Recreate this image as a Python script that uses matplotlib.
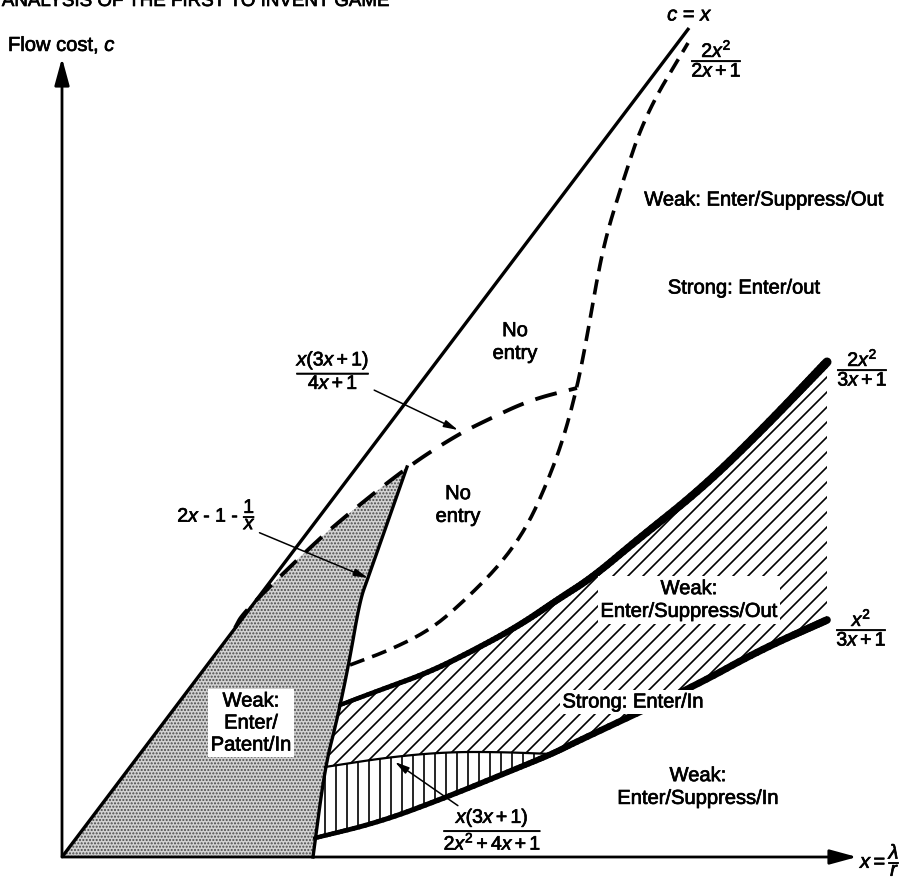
import numpy as np
import matplotlib.pyplot as plt
import matplotlib.patheffects as pe
from matplotlib.collections import LineCollection
from matplotlib.patches import Polygon
from matplotlib.path import Path

plt.rcParams['font.family'] = ['Liberation Sans', 'DejaVu Sans']
plt.rcParams['mathtext.fontset'] = 'custom'
plt.rcParams['mathtext.rm'] = 'Liberation Sans'
plt.rcParams['mathtext.it'] = 'Liberation Sans:italic'
plt.rcParams['mathtext.bf'] = 'Liberation Sans:bold'
plt.rcParams['lines.scale_dashes'] = False

# Curves (x = lambda/r across, c = flow cost up), schematic units
diag_x = [0.0, 6.27]                      # c = x
diag_c = [0.0, 8.29]

s_x = [2.88, 3.28, 3.68, 4.00, 4.38, 4.65, 4.85, 5.01, 5.15, 5.25, 5.33, 5.43, 5.58, 5.83, 6.26]   # 2x^2/(2x+1)
s_c = [1.92, 2.07, 2.27, 2.54, 2.92, 3.30, 3.74, 4.17, 4.69, 5.20, 5.67, 6.17, 6.67, 7.42, 8.14]

noentry_x = [1.73, 1.81, 2.38, 2.75, 3.45, 3.95, 4.25, 4.68, 5.15]   # x(3x+1)/(4x+1)
noentry_c = [2.29, 2.44, 3.00, 3.34, 3.90, 4.22, 4.37, 4.57, 4.69]

patent_x = [3.45, 3.06, 2.98, 2.87, 2.75, 2.63, 2.51]   # 2x - 1 - 1/x
patent_c = [3.90, 2.79, 2.57, 1.94, 1.37, 0.90, 0.00]

upper_x = [2.78, 3.18, 3.68, 4.18, 4.58, 4.95, 5.31, 5.75, 6.38, 6.98, 7.65]   # 2x^2/(3x+1)
upper_c = [1.52, 1.67, 1.85, 2.10, 2.32, 2.57, 2.80, 3.17, 3.67, 4.25, 4.95]

mid_x = [2.63, 3.28, 3.85, 4.38, 4.90]   # x(3x+1)/(2x^2+4x+1)
mid_c = [0.90, 1.00, 1.05, 1.05, 1.03]

lower_x = [2.53, 3.18, 3.85, 4.51, 4.90, 5.18, 6.31, 6.98, 7.65]   # x^2/(3x+1)
lower_c = [0.19, 0.35, 0.60, 0.87, 1.03, 1.17, 1.70, 2.07, 2.37]

x_end = 7.95
c_end = 7.99


def smooth(xs, cs, n=12):
    # quadratic bezier through the midpoints, read points act as control points
    pts = np.column_stack([xs, cs])
    if len(pts) < 3:
        return pts
    mids = (pts[:-1] + pts[1:]) / 2
    verts = [pts[0], mids[0]]
    codes = [Path.MOVETO, Path.LINETO]
    for i in range(1, len(pts) - 1):
        verts += [pts[i], mids[i]]
        codes += [Path.CURVE3, Path.CURVE3]
    verts.append(pts[-1])
    codes.append(Path.LINETO)
    out = [pts[0]]
    for seg, code in Path(verts, codes).iter_bezier():
        if code == Path.MOVETO:
            continue
        out.extend(seg(np.linspace(0, 1, n))[1:])
    return np.array(out)


fig = plt.figure(figsize=(9.13, 8.8), dpi=100)
ax = fig.add_axes([0, 0, 1, 1])
ax.set_xlim(-0.62, 8.51)
ax.set_ylim(-0.23, 8.57)
ax.axis('off')

# stippled region: Weak Enter/Patent/In
stip = np.array([(0, 0), (diag_x[1] * noentry_c[0] / diag_c[1], noentry_c[0])]
                + list(zip(noentry_x[1:5], noentry_c[1:5]))
                + list(zip(patent_x[1:], patent_c[1:])))
ax.add_patch(Polygon(stip, closed=True, facecolor='#d2d2d2', edgecolor='#4a4a4a',
                     lw=0, hatch='.....', zorder=1))


def hatch_region(verts, kind, spacing, lw=1.2):
    patch = Polygon(verts, closed=True, facecolor='none', edgecolor='none')
    ax.add_patch(patch)
    offs = np.arange(-12, 12, spacing)
    if kind == 'diag':
        segs = [[(-1, -1 - b), (10, 10 - b)] for b in offs]
    else:
        segs = [[(b, -1), (b, 10)] for b in offs]
    lc = LineCollection(segs, colors='k', linewidths=lw, zorder=2)
    ax.add_collection(lc)
    lc.set_clip_path(patch)


up_s = smooth(upper_x, upper_c)
low_s = smooth(lower_x, lower_c)
mid_s = smooth(mid_x, mid_c)
split = np.argmin(np.abs(low_s[:, 0] - mid_x[-1]))

diag_poly = np.vstack([up_s, [(upper_x[-1], lower_c[-1])], low_s[:split - 1:-1], mid_s[::-1]])
hatch_region(diag_poly, 'diag', 0.15)

vert_poly = np.vstack([mid_s, low_s[split::-1]])
hatch_region(vert_poly, 'vert', 0.11)


def taper(pts, w0, w1):
    segs = np.stack([pts[:-1], pts[1:]], axis=1)
    lc = LineCollection(segs, colors='k', linewidths=np.linspace(w0, w1, len(segs)),
                        capstyle='round', joinstyle='round', zorder=4)
    ax.add_collection(lc)


# curves
ax.plot(diag_x, diag_c, color='k', lw=2.4, zorder=4, solid_capstyle='butt')
s_s = smooth(s_x, s_c)
ax.plot(s_s[:, 0], s_s[:, 1], color='k', lw=2.6, dashes=(11, 6), zorder=4)
ne_s = smooth(noentry_x, noentry_c)
ax.plot(ne_s[:, 0], ne_s[:, 1], color='k', lw=2.8, dashes=(16, 9), zorder=4)
pa_s = smooth(patent_x, patent_c)
ax.plot(pa_s[:, 0], pa_s[:, 1], color='k', lw=2.4, zorder=4)
ax.plot(mid_s[:, 0], mid_s[:, 1], color='k', lw=1.6, zorder=4)
taper(up_s, 3.0, 6.5)
taper(low_s, 3.2, 5.5)

# axes with arrows
ax.annotate('', xy=(x_end, 0), xytext=(0, 0),
            arrowprops=dict(arrowstyle='-|>,head_length=1.1,head_width=0.3',
                            lw=2, color='k', mutation_scale=15, shrinkA=0, shrinkB=0))
ax.annotate('', xy=(0, c_end), xytext=(0, 0),
            arrowprops=dict(arrowstyle='-|>,head_length=1.1,head_width=0.3',
                            lw=2, color='k', mutation_scale=15, shrinkA=0, shrinkB=0))

# text is a bit heavier in the printed original
ink = [pe.withStroke(linewidth=0.5, foreground='k')]
fs = 14.5
ffs = 14
fig.text(0.002, 1 - 6 / 880, 'ANALYSIS OF THE FIRST TO INVENT GAME', fontsize=13.5, va='baseline',
         path_effects=ink)
ax.text(-0.54, 8.12, 'Flow cost, $c$', fontsize=fs, va='center', ha='left', path_effects=ink)
ax.text(7.98, -0.03, r'$x = \dfrac{\lambda}{r}$', fontsize=fs, va='center', ha='left', path_effects=ink)
ax.text(6.28, 8.42, '$c$ = $x$', fontsize=fs, ha='center', va='center', path_effects=ink)
ax.text(6.55, 7.98, r'$\dfrac{2x^2}{2x + 1}$', fontsize=ffs, ha='center', va='center', path_effects=ink)
ax.text(8.01, 4.89, r'$\dfrac{2x^2}{3x + 1}$', fontsize=ffs, ha='center', va='center', path_effects=ink)
ax.text(8.00, 2.29, r'$\dfrac{x^2}{3x + 1}$', fontsize=ffs, ha='center', va='center', path_effects=ink)

box = dict(facecolor='white', edgecolor='none', pad=2)
ax.text(4.53, 5.15, 'No\nentry', fontsize=fs, ha='center', va='center', linespacing=1.25,
        path_effects=ink)
ax.text(3.96, 3.52, 'No\nentry', fontsize=fs, ha='center', va='center', linespacing=1.25,
        path_effects=ink)
ax.text(1.89, 1.34, 'Weak:\nEnter/\nPatent/In', fontsize=fs, ha='center', va='center',
        linespacing=1.2, bbox=box, zorder=5, path_effects=ink)
ax.text(6.27, 2.57, 'Weak:\nEnter/Suppress/Out', fontsize=fs, ha='center', va='center',
        linespacing=1.25, bbox=box, zorder=5, path_effects=ink)
ax.text(5.71, 1.55, 'Strong: Enter/In', fontsize=fs, ha='center', va='center', bbox=box, zorder=5,
        path_effects=ink)
ax.text(6.36, 0.70, 'Weak:\nEnter/Suppress/In', fontsize=fs, ha='center', va='center', linespacing=1.25,
        path_effects=ink)
ax.text(7.02, 6.57, 'Weak: Enter/Suppress/Out', fontsize=fs, ha='center', va='center', path_effects=ink)
ax.text(6.82, 5.69, 'Strong: Enter/out', fontsize=fs, ha='center', va='center', path_effects=ink)

# labelled arrows
small = dict(arrowstyle='-|>,head_length=0.85,head_width=0.22', lw=1.1, color='k',
             mutation_scale=10, shrinkA=0, shrinkB=0)
ax.annotate(r'$\dfrac{x(3x + 1)}{4x + 1}$', xy=(3.96, 4.27), xytext=(2.72, 4.86),
            fontsize=ffs, ha='center', va='center', arrowprops=small, path_effects=ink)
ax.annotate(r'$2x$ - 1 - $\dfrac{1}{x}$', xy=(3.06, 2.79), xytext=(1.55, 3.42),
            fontsize=ffs, ha='center', va='center', arrowprops=small, path_effects=ink)
ax.annotate(r'$\dfrac{x(3x + 1)}{2x^2 + 4x + 1}$', xy=(3.33, 0.95), xytext=(4.31, 0.27),
            fontsize=ffs, ha='center', va='center', arrowprops=small, path_effects=ink)

fig.savefig('out.png', dpi=100, facecolor='white')
